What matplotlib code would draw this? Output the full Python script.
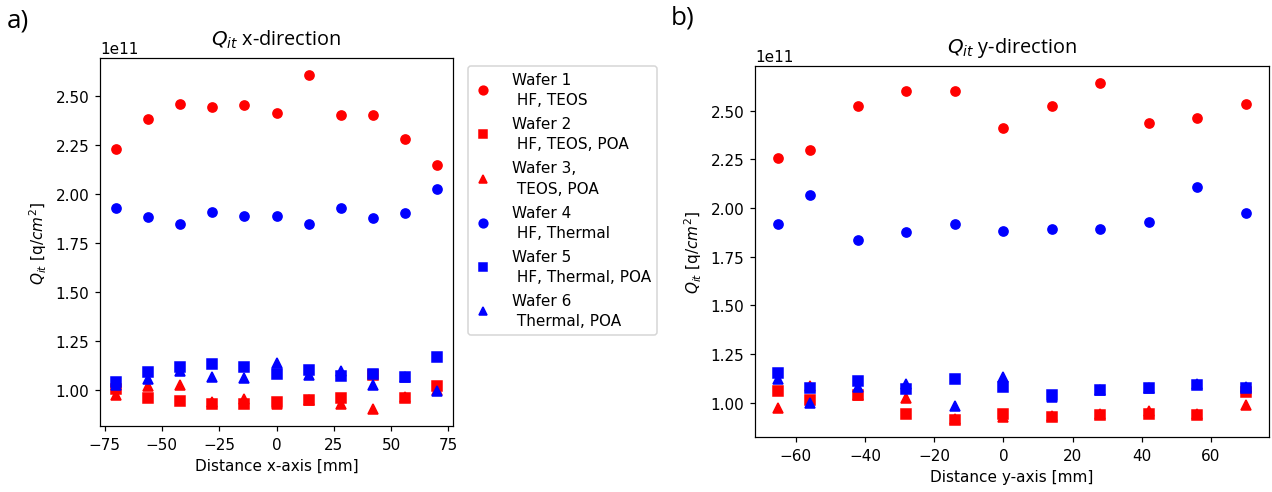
import matplotlib
matplotlib.use("Agg")
import matplotlib.pyplot as plt

# ---------------- data (values in units of 1e11 q/cm^2) ----------------
x_pos_x = [-70, -56, -42, -28, -14, 0, 14, 28, 42, 56, 70]
w1_x = [2.230, 2.382, 2.460, 2.446, 2.455, 2.413, 2.610, 2.404, 2.404, 2.283, 2.150]
w2_x = [1.005, 0.958, 0.941, 0.928, 0.924, 0.938, 0.946, 0.958, 1.072, 0.957, 1.017]
w3_x = [0.972, 1.020, 1.022, 0.935, 0.950, 0.924, 0.946, 0.924, 0.899, 0.960, 1.000]
w4_x = [1.929, 1.884, 1.847, 1.908, 1.889, 1.887, 1.847, 1.929, 1.876, 1.904, 2.024]
w5_x = [1.037, 1.089, 1.115, 1.130, 1.115, 1.081, 1.101, 1.068, 1.081, 1.064, 1.164]
w6_x = [1.025, 1.054, 1.093, 1.066, 1.058, 1.138, 1.076, 1.093, 1.022, 1.062, 0.992]

y_pos_y = [-65, -56, -42, -28, -14, 0, 14, 28, 42, 56, 70]
w1_y = [2.256, 2.297, 2.525, 2.603, 2.600, 2.413, 2.525, 2.643, 2.437, 2.464, 2.537]
w2_y = [1.061, 1.013, 1.039, 0.940, 0.911, 0.945, 0.928, 0.937, 0.945, 0.935, 1.058]
w3_y = [0.971, 1.085, 1.042, 1.027, 0.915, 0.928, 0.932, 0.940, 0.957, 0.940, 0.988]
w4_y = [1.920, 2.066, 1.835, 1.877, 1.917, 1.884, 1.891, 1.893, 1.930, 2.106, 1.973]
w5_y = [1.153, 1.077, 1.112, 1.072, 1.124, 1.082, 1.039, 1.068, 1.075, 1.090, 1.077]
w6_y = [1.124, 1.000, 1.082, 1.095, 0.985, 1.133, 1.030, 1.068, 1.075, 1.095, 1.080]

labels = ["Wafer 1\n HF, TEOS", "Wafer 2\n HF, TEOS, POA", "Wafer 3,\n TEOS, POA",
          "Wafer 4\n HF, Thermal", "Wafer 5\n HF, Thermal, POA", "Wafer 6\n Thermal, POA"]
styles = ["ro", "rs", "r^", "bo", "bs", "b^"]
scale = 1e11

DPI = 110
fig = plt.figure(figsize=(1272 / DPI, 493 / DPI), dpi=DPI)

ax1 = fig.add_axes([100 / 1272, 1 - 427 / 493, 353 / 1272, 368 / 493])
ax2 = fig.add_axes([755 / 1272, 1 - 438 / 493, 514 / 1272, 371 / 493])

for ys, st, lab in zip([w1_x, w2_x, w3_x, w4_x, w5_x, w6_x], styles, labels):
    ax1.plot(x_pos_x, [v * scale for v in ys], st, label=lab)
for ys, st, lab in zip([w1_y, w2_y, w3_y, w4_y, w5_y, w6_y], styles, labels):
    ax2.plot(y_pos_y, [v * scale for v in ys], st, label=lab)

ax1.set_title(r"$Q_{it}$ x-direction", family="Open Sans", fontsize=13, pad=9)
ax2.set_title(r"$Q_{it}$ y-direction", family="Open Sans", fontsize=13, pad=9)
ax1.set_xlabel("Distance x-axis [mm]")
ax2.set_xlabel("Distance y-axis [mm]")
ax1.set_ylabel(r"$Q_{it}$ [q/$cm^2$]")
ax2.set_ylabel(r"$Q_{it}$ [q/$cm^2$]")

leg = ax1.legend(loc="upper left", bbox_to_anchor=(1.02, 1.0), markerscale=0.95,
                 handlelength=1.2, handletextpad=1.3, labelspacing=0.58)
for t in leg.get_texts():
    t.set_linespacing(1.45)

fig.text(7 / 1272, 1 - 21 / 493, "a)", family="Open Sans", fontsize=17, va="center", ha="left")
fig.text(671 / 1272, 1 - 18 / 493, "b)", family="Open Sans", fontsize=17, va="center", ha="left")

fig.savefig("out.png", dpi=DPI)
